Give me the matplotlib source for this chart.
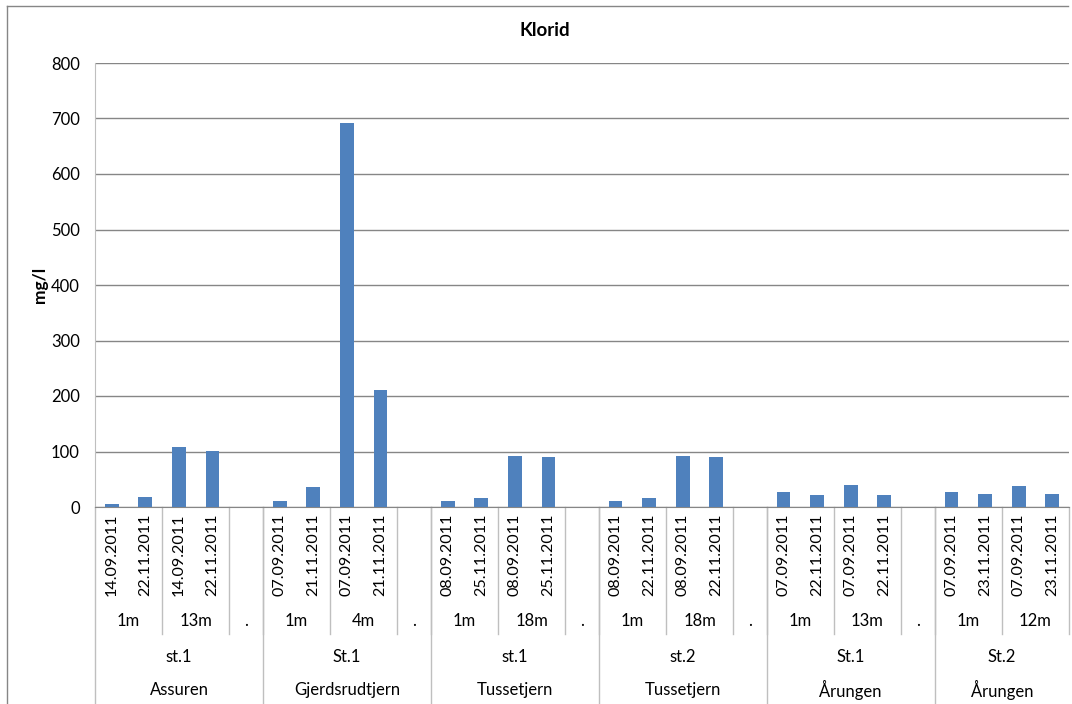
import numpy as np
import matplotlib
matplotlib.use("Agg")
import matplotlib.pyplot as plt

plt.rcParams['font.family'] = ['Lato', 'DejaVu Sans']

# one entry per category slot; "." slots are empty separators
dates = ["14.09.2011", "22.11.2011", "14.09.2011", "22.11.2011", "",
         "07.09.2011", "21.11.2011", "07.09.2011", "21.11.2011", "",
         "08.09.2011", "25.11.2011", "08.09.2011", "25.11.2011", "",
         "08.09.2011", "22.11.2011", "08.09.2011", "22.11.2011", "",
         "07.09.2011", "22.11.2011", "07.09.2011", "22.11.2011", "",
         "07.09.2011", "23.11.2011", "07.09.2011", "23.11.2011"]
klorid = [6, 18, 108, 101, np.nan,
          11, 36, 691, 210, np.nan,
          11, 17, 92, 90, np.nan,
          11, 17, 92, 90, np.nan,
          27, 22, 40, 22, np.nan,
          27, 24, 38, 24]

depth_labels = ["1m", "13m", ".", "1m", "4m", ".", "1m", "18m", ".",
                "1m", "18m", ".", "1m", "13m", ".", "1m", "12m"]
depth_sizes = [2, 2, 1, 2, 2, 1, 2, 2, 1, 2, 2, 1, 2, 2, 1, 2, 2]

stations = ["st.1", "St.1", "st.1", "st.2", "St.1", "St.2"]
lakes = ["Assuren", "Gjerdsrudtjern", "Tussetjern", "Tussetjern", "Årungen", "Årungen"]
group_sizes = [5, 5, 5, 5, 5, 4]

W, H = 1072, 704
fig = plt.figure(figsize=(W / 100, H / 100), dpi=100)
x0, x1, ytop, ybot = 95, 1069, 63, 507
ax = fig.add_axes([x0 / W, 1 - ybot / H, (x1 - x0) / W, (ybot - ytop) / H])

FS = 12

x = np.arange(len(klorid))
ax.bar(x, klorid, width=0.41, color='#4F81BD', zorder=3)
ax.set_xlim(-0.5, len(klorid) - 0.5)
ax.set_ylim(0, 800)
ax.set_yticks(np.arange(0, 801, 100))
ax.yaxis.grid(True, color='#868686', linewidth=1)
ax.set_axisbelow(True)
ax.tick_params(axis='y', length=0, pad=11, labelsize=FS)
ax.set_xticks([])
for s in ['top', 'right']:
    ax.spines[s].set_visible(False)
ax.spines['left'].set_color('#BFBFBF')
ax.spines['bottom'].set_color('#868686')

def yfrac(ypix):
    return (ybot - ypix) / (ybot - ytop)

tr = ax.get_xaxis_transform()
sep_color = '#BFBFBF'

# date labels
for i, d in enumerate(dates):
    if d:
        ax.text(i, yfrac(514), d, transform=tr, rotation=90, ha='center', va='top',
                fontsize=11.6, clip_on=False)

# depth labels and separators
pos = -0.5
for lab, n in zip(depth_labels, depth_sizes):
    ax.text(pos + n / 2, yfrac(621), lab, transform=tr, ha='center', va='center',
            fontsize=FS, clip_on=False)
    pos += n
    ax.plot([pos, pos], [0, yfrac(634)], transform=tr, color=sep_color,
            linewidth=1, clip_on=False)

# station / lake labels and group separators
pos = -0.5
ax.plot([pos, pos], [0, yfrac(710)], transform=tr, color=sep_color, linewidth=1, clip_on=False)
for st, lk, n in zip(stations, lakes, group_sizes):
    ax.text(pos + n / 2, yfrac(657), st, transform=tr, ha='center', va='center',
            fontsize=FS, clip_on=False)
    ax.text(pos + n / 2, yfrac(690), lk, transform=tr, ha='center', va='center',
            fontsize=FS, clip_on=False)
    pos += n
    if pos < len(klorid) - 0.5:
        ax.plot([pos, pos], [0, yfrac(710)], transform=tr, color=sep_color,
                linewidth=1, clip_on=False)

fig.text(545 / W, 1 - 31 / H, 'Klorid', ha='center', va='center', fontsize=13.5, fontweight='bold')
fig.text(40 / W, 1 - 285 / H, 'mg/l', ha='center', va='center', rotation=90,
         fontsize=12.5, fontweight='bold')

# outer chart frame
fig.add_artist(plt.Line2D([7 / W, 7 / W], [0, 1 - 6 / H], transform=fig.transFigure,
                          color='#868686', linewidth=1))
fig.add_artist(plt.Line2D([7 / W, 1068 / W], [1 - 6 / H, 1 - 6 / H], transform=fig.transFigure,
                          color='#868686', linewidth=1))

fig.savefig('out.png', dpi=100)
